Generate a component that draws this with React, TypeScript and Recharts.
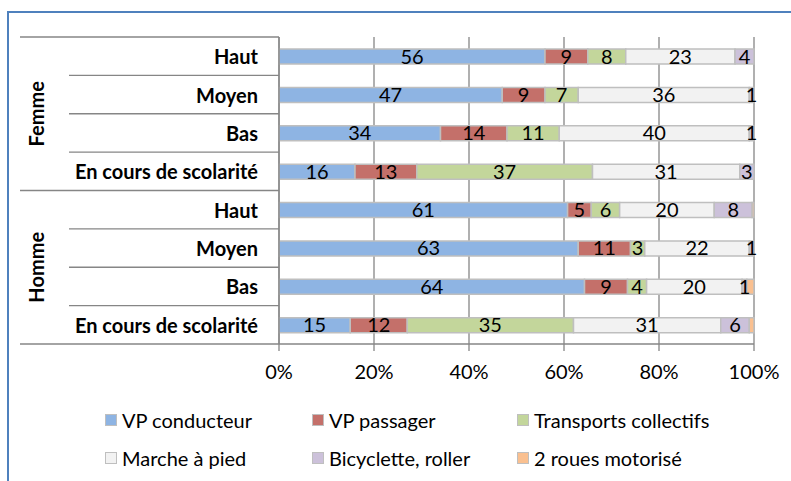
import { Bar, BarChart, CartesianGrid, LabelList, XAxis, YAxis } from 'recharts';

// Travel mode shares (%) by sex and education level
const groups = ['Femme', 'Homme'];
const levels = ['Haut', 'Moyen', 'Bas', 'En cours de scolarité'];

// one value per row: Femme (Haut, Moyen, Bas, En cours) then Homme (same order)
const vpConducteur = [56, 47, 34, 16, 61, 63, 64, 15];
const vpPassager = [9, 9, 14, 13, 5, 11, 9, 12];
const transportsCollectifs = [8, 7, 11, 37, 6, 3, 4, 35];
const marcheAPied = [23, 36, 40, 31, 20, 22, 20, 31];
const bicyclette = [4, 1, 1, 3, 8, 1, 1, 6];
const deuxRoues = [0, 0, 0, 0, 0.4, 0, 1.5, 1];

const xTicks = [0, 0.2, 0.4, 0.6, 0.8, 1];

const series = [
  { key: 'vpConducteur', name: 'VP conducteur', values: vpConducteur, color: '#8EB4E3', labelled: true },
  { key: 'vpPassager', name: 'VP passager', values: vpPassager, color: '#C4706A', labelled: true },
  { key: 'transports', name: 'Transports collectifs', values: transportsCollectifs, color: '#C3D69B', labelled: true },
  { key: 'marche', name: 'Marche à pied', values: marcheAPied, color: '#F2F2F2', labelled: true },
  { key: 'velo', name: 'Bicyclette, roller', values: bicyclette, color: '#CCC1DA', labelled: true },
  { key: 'deuxRoues', name: '2 roues motorisé', values: deuxRoues, color: '#FAC090', labelled: false },
];

type TRow = { id: string; label: string; group: string } & Record<string, number | string>;

const rows: TRow[] = groups.flatMap((group, gi) =>
  levels.map((label, li) => {
    const row: TRow = { id: `${group}-${label}`, label, group };
    series.forEach((s) => {
      row[s.key] = s.values[gi * levels.length + li];
    });
    return row;
  }),
);

const W = 791;
const H = 481;
const PLOT = { left: 279, right: 754, top: 37, bottom: 344 };
const AXIS_W = 259;
const X_AXIS_H = 30;
const GROUP_X = 20;
const ROW_X = 69;
const FONT = 'Lato, "Open Sans", sans-serif';
const FONT_SIZE = 20;
const LINE = '#868686';

const band = (PLOT.bottom - PLOT.top) / rows.length;

// two-level category axis: row label, separators, and rotated group label
const CategoryTick = ({ x, y, index }: { x: number; y: number; index: number }) => {
  const row = rows[index];
  const li = index % levels.length;
  const top = y - band / 2;
  const bottom = y + band / 2;
  const groupMid = top + (band * levels.length) / 2;
  return (
    <g>
      <line x1={li === 0 ? GROUP_X : ROW_X} x2={PLOT.left} y1={top} y2={top} stroke={LINE} strokeWidth={1.3} />
      {index === rows.length - 1 && (
        <line x1={GROUP_X} x2={PLOT.left} y1={bottom} y2={bottom} stroke={LINE} strokeWidth={1.3} />
      )}
      <text
        x={x}
        y={y}
        textAnchor="end"
        dominantBaseline="central"
        fontFamily={FONT}
        fontSize={FONT_SIZE}
        fontWeight="bold"
        fill="#000"
      >
        {row.label}
      </text>
      {li === 0 && (
        <text
          x={36}
          y={groupMid}
          transform={`rotate(-90 36 ${groupMid})`}
          textAnchor="middle"
          dominantBaseline="central"
          fontFamily={FONT}
          fontSize={FONT_SIZE}
          fontWeight="bold"
          fill="#000"
        >
          {row.group}
        </text>
      )}
    </g>
  );
};

const formatLabel = (v: unknown) => (typeof v === 'number' && v >= 1 ? v : '');

const ChartLegend = () => (
  <div
    style={{
      position: 'absolute',
      left: 105,
      top: 406,
      display: 'grid',
      gridTemplateColumns: '207px 205px 206px',
      rowGap: 10,
      fontFamily: FONT,
      fontSize: FONT_SIZE,
      color: '#000',
    }}
  >
    {series.map((s) => (
      <div key={s.key} style={{ display: 'flex', alignItems: 'center', height: 28 }}>
        <span
          style={{
            display: 'inline-block',
            width: 10,
            height: 10,
            background: s.color,
            border: '1px solid #BFBFBF',
            marginRight: 5,
          }}
        />
        <span>{s.name}</span>
      </div>
    ))}
  </div>
);

const App = () => {
  return (
    <div
      style={{
        position: 'fixed',
        left: 0,
        top: 0,
        width: W,
        height: H,
        background: '#fff',
        overflow: 'hidden',
      }}
    >
      <div
        style={{
          position: 'absolute',
          left: 7,
          top: 11,
          width: W + 20,
          height: H + 20,
          border: '2px solid #4F81BD',
          boxSizing: 'border-box',
        }}
      />
      <div style={{ position: 'absolute', left: 0, top: 0 }}>
        <BarChart
          width={W}
          height={H}
          data={rows}
          layout="vertical"
          stackOffset="expand"
          barSize={15}
          margin={{
            top: PLOT.top,
            right: W - PLOT.right,
            left: PLOT.left - AXIS_W,
            bottom: H - PLOT.bottom - X_AXIS_H,
          }}
        >
          <CartesianGrid horizontal={false} stroke={LINE} strokeWidth={1.3} />
          <XAxis
            type="number"
            domain={[0, 1]}
            ticks={xTicks}
            tickFormatter={(v: number) => `${Math.round(v * 100)}%`}
            axisLine={{ stroke: LINE, strokeWidth: 1.3 }}
            tickLine={{ stroke: LINE, strokeWidth: 1.3 }}
            tickSize={7}
            tickMargin={14}
            height={X_AXIS_H}
            tick={{ fill: '#000', fontSize: FONT_SIZE, fontFamily: FONT }}
          />
          <YAxis
            type="category"
            dataKey="id"
            width={AXIS_W}
            axisLine={{ stroke: LINE, strokeWidth: 1.3 }}
            tickLine={false}
            tickSize={6}
            tickMargin={15}
            interval={0}
            tick={(props: any) => <CategoryTick key={props.index} {...props} />}
          />
          {series.map((s) => (
            <Bar
              key={s.key}
              dataKey={s.key}
              name={s.name}
              stackId="modes"
              fill={s.color}
              stroke="#BFBFBF"
              strokeWidth={1.5}
              isAnimationActive={false}
            >
              {s.labelled && (
                <LabelList
                  dataKey={s.key}
                  position="center"
                  formatter={formatLabel}
                  fill="#000"
                  fontSize={FONT_SIZE}
                  fontFamily={FONT}
                />
              )}
            </Bar>
          ))}
        </BarChart>
      </div>
      <ChartLegend />
    </div>
  );
};

export default App;
